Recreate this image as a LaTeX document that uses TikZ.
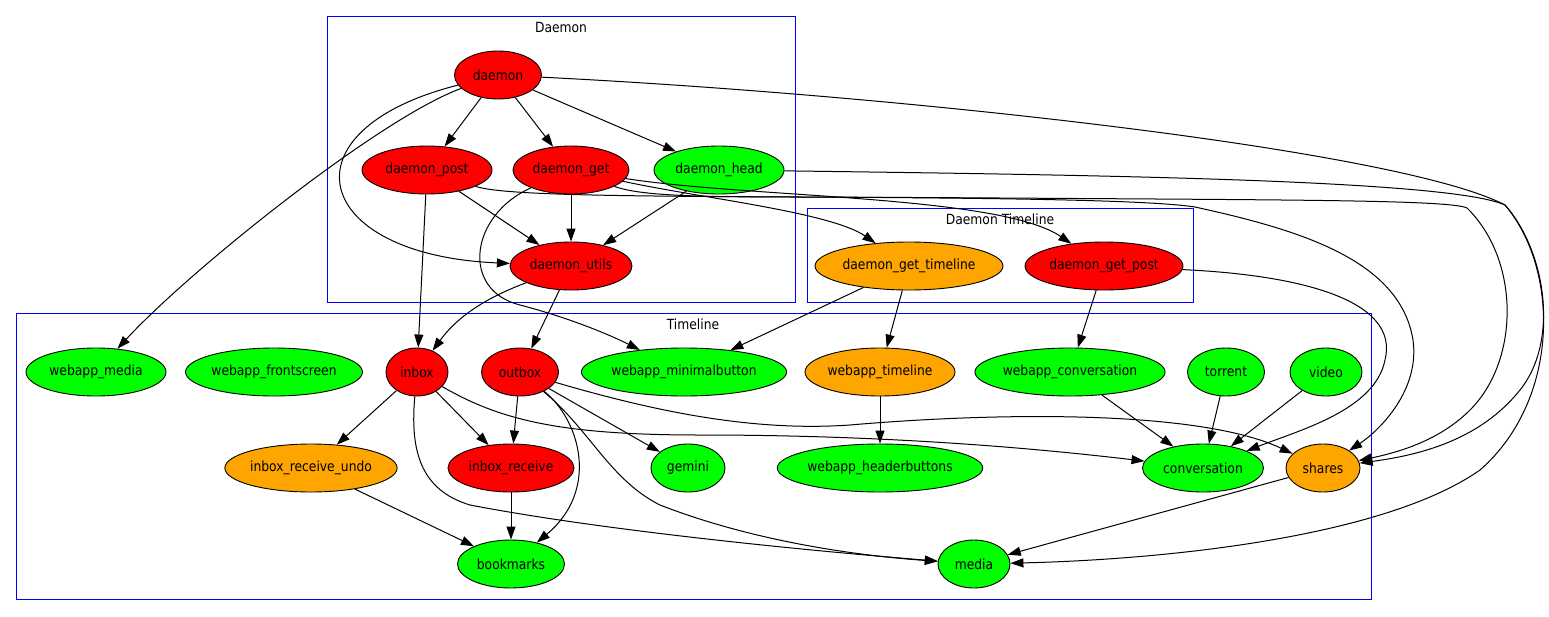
\documentclass[tikz,border=0pt]{standalone}
\usepackage{fontspec}
\setmainfont{DejaVu Sans}[FakeStretch=0.88]
\usepackage{xcolor}
\usetikzlibrary{shapes.geometric,arrows.meta}

\definecolor{gvred}{HTML}{FF0000}
\definecolor{gvgreen}{HTML}{00FF00}
\definecolor{gvorange}{HTML}{FFA500}
\definecolor{gvblue}{HTML}{0000FF}

\begin{document}
\begin{tikzpicture}[
  x=1pt, y=-1pt,
  nd/.style={ellipse, draw, line width=0.9pt, minimum height=48pt, inner sep=0pt, font=\fontsize{14}{16}\selectfont},
  redn/.style={nd, fill=gvred},
  greenn/.style={nd, fill=gvgreen},
  orangen/.style={nd, fill=gvorange},
  cluster/.style={draw=gvblue, line width=1pt},
  clabel/.style={font=\fontsize{14}{16}\selectfont},
  arr/.style={-{Triangle[length=13pt,width=9pt]}, line width=1pt}
]
\useasboundingbox (0,0) rectangle (1549,616);

% clusters
\draw[cluster] (327,16) rectangle (795,302);
\node[clabel] (lbldaemon) at (561,27) {Daemon};
\draw[cluster] (807,208) rectangle (1193,302);
\node[clabel] (lbldtl) at (1000,219) {Daemon Timeline};
\draw[cluster] (16,313) rectangle (1371,599);
\node[clabel] (lbltl) at (693,324) {Timeline};

% Daemon
\node[redn, minimum width=87pt] (daemon) at (498,75) {daemon};
\node[redn, minimum width=130pt] (dpost) at (427,170) {daemon\_post};
\node[redn, minimum width=116pt] (dget) at (571,170) {daemon\_get};
\node[greenn, minimum width=130pt] (dhead) at (719,170) {daemon\_head};
\node[redn, minimum width=122pt] (dutils) at (571,266) {daemon\_utils};

% Daemon Timeline
\node[orangen, minimum width=184pt] (dgettl) at (909,266) {daemon\_get\_timeline};
\node[redn, minimum width=158pt] (dgetpost) at (1104,266) {daemon\_get\_post};

% Timeline - first row
\node[greenn, minimum width=140pt] (wmedia) at (96,372) {webapp\_media};
\node[greenn, minimum width=174pt] (wfront) at (274,372) {webapp\_frontscreen};
\node[redn, minimum width=62pt] (inbox) at (417,372) {inbox};
\node[redn, minimum width=77pt] (outbox) at (520,372) {outbox};
\node[greenn, minimum width=200pt] (wminbtn) at (684,372) {webapp\_minimalbutton};
\node[orangen, minimum width=150pt] (wtl) at (880,372) {webapp\_timeline};
\node[greenn, minimum width=186pt] (wconv) at (1070,372) {webapp\_conversation};
\node[greenn, minimum width=77pt] (torrent) at (1226,372) {torrent};
\node[greenn, minimum width=72pt] (video) at (1326,372) {video};

% Timeline - second row
\node[orangen, minimum width=171pt] (irundo) at (311,468) {inbox\_receive\_undo};
\node[redn, minimum width=126pt] (irecv) at (511,468) {inbox\_receive};
\node[greenn, minimum width=74pt] (gemini) at (688,468) {gemini};
\node[greenn, minimum width=202pt] (whdrbtn) at (880,468) {webapp\_headerbuttons};
\node[greenn, minimum width=121pt] (conv) at (1203,468) {conversation};
\node[orangen, minimum width=74pt] (shares) at (1323,468) {shares};

% Timeline - third row
\node[greenn, minimum width=107pt] (bookmarks) at (511,564) {bookmarks};
\node[greenn, minimum width=72pt] (media) at (974,564) {media};

% edges inside Daemon
\draw[arr] (daemon) -- (dpost);
\draw[arr] (daemon) -- (dget);
\draw[arr] (daemon) -- (dhead);
\draw[arr] (daemon) .. controls (280,130) and (310,255) .. (dutils);
\draw[arr] (dpost) -- (dutils);
\draw[arr] (dget) -- (dutils);
\draw[arr] (dhead) -- (dutils);

% edges leaving Daemon
\draw[arr] (daemon) .. controls (380,118) and (190,270) .. (wmedia);
\draw[arr] (dpost) -- (inbox);
\draw[arr] (dutils) .. controls (480,300) and (455,320) .. (inbox);
\draw[arr] (dutils) -- (outbox);
\draw[arr] (dget) .. controls (470,215) and (460,290) .. (520,305) .. controls (570,318) and (610,335) .. (wminbtn);
\draw[arr] (dget) .. controls (700,198) and (830,212) .. (dgettl);
\draw[arr] (dget) .. controls (750,198) and (1000,195) .. (dgetpost);
\draw[arr] (dget) .. controls (640,196) and (700,197) .. (800,197) .. controls (1000,198) and (1150,200) .. (1195,207) .. controls (1300,230) and (1400,260) .. (1413,340) .. controls (1420,390) and (1380,430) .. (shares);
\draw[arr] (dpost) .. controls (510,198) and (700,196) .. (1000,198) .. controls (1300,200) and (1450,200) .. (1467,208) .. controls (1520,260) and (1520,360) .. (1470,410) .. controls (1440,440) and (1400,452) .. (shares);
\draw[arr] (dhead) .. controls (1100,175) and (1450,180) .. (1505,205) .. controls (1545,250) and (1560,340) .. (1520,390) .. controls (1480,440) and (1420,455) .. (shares);
\draw[arr] (daemon) .. controls (900,95) and (1400,150) .. (1505,205) .. controls (1560,270) and (1560,400) .. (1480,470) .. controls (1380,540) and (1150,560) .. (media);

% Daemon Timeline
\draw[arr] (dgettl) -- (wminbtn);
\draw[arr] (dgettl) -- (wtl);
\draw[arr] (dgetpost) -- (wconv);
\draw[arr] (dgetpost) .. controls (1300,275) and (1400,300) .. (1385,360) .. controls (1375,410) and (1300,430) .. (conv);

% Timeline
\draw[arr] (inbox) -- (irundo);
\draw[arr] (inbox) -- (irecv);
\draw[arr] (inbox) .. controls (500,420) and (560,435) .. (700,435) .. controls (900,435) and (1050,450) .. (conv);
\draw[arr] (inbox) .. controls (410,450) and (420,490) .. (470,505) .. controls (600,530) and (800,550) .. (media);
\draw[arr] (outbox) -- (irecv);
\draw[arr] (outbox) .. controls (580,420) and (600,490) .. (bookmarks);
\draw[arr] (outbox) -- (gemini);
\draw[arr] (outbox) .. controls (590,430) and (610,480) .. (660,505) .. controls (750,540) and (850,555) .. (media);
\draw[arr] (outbox) .. controls (650,410) and (750,432) .. (850,425) .. controls (1000,412) and (1200,410) .. (shares);
\draw[arr] (irecv) -- (bookmarks);
\draw[arr] (irundo) -- (bookmarks);
\draw[arr] (wtl) -- (whdrbtn);
\draw[arr] (wconv) -- (conv);
\draw[arr] (torrent) -- (conv);
\draw[arr] (video) -- (conv);
\draw[arr] (shares) -- (media);
\end{tikzpicture}
\end{document}
